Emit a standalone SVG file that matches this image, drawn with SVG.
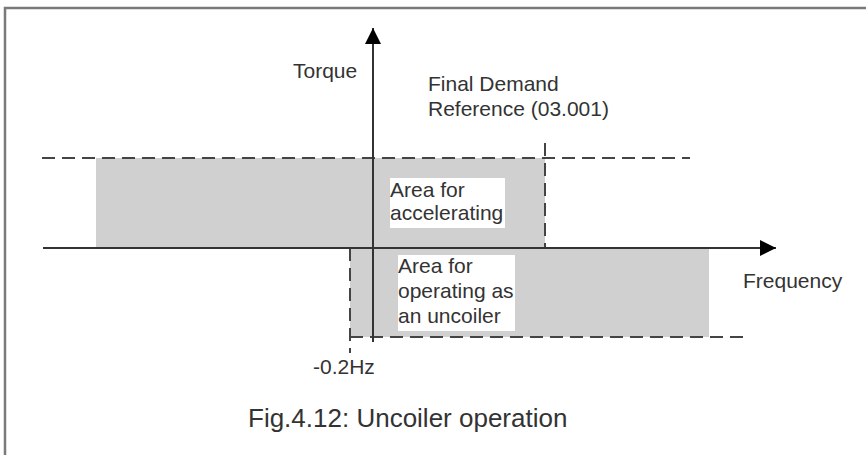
<svg xmlns="http://www.w3.org/2000/svg" width="866" height="455" viewBox="0 0 866 455">
<style>
.t{font-family:"Liberation Sans",Arial,sans-serif;font-size:21px;fill:#333}
.cap{font-family:"Liberation Sans",Arial,sans-serif;font-size:26px;fill:#333}
.dash{stroke:#444;stroke-width:2;stroke-dasharray:13 7;fill:none}
.area{fill:#d0d0d0}
.box{fill:#fff}
.axis{stroke:#333;stroke-width:2;fill:none}
</style>
<defs>
<marker id="arr" markerWidth="16" markerHeight="16" refX="16" refY="8" orient="auto" markerUnits="userSpaceOnUse">
<path d="M0,0 L16,8 L0,16 Z" fill="#000"/>
</marker>
</defs>
<rect width="866" height="455" fill="#fff"/>
<g id="frame">
<path d="M5,455 L5,8 L866,8" stroke="#7a7a7a" stroke-width="2.5" fill="none"/>
</g>
<g id="areas">
<rect class="area" x="96" y="158" width="449" height="90"/>
<rect class="area" x="350" y="248" width="359" height="89"/>
</g>
<g id="connectors">
<line class="dash" x1="42" y1="158" x2="690" y2="158"/>
<line class="dash" x1="545" y1="143" x2="545" y2="248"/>
<line class="dash" x1="350" y1="337" x2="748" y2="337"/>
<line class="dash" x1="350" y1="248" x2="350" y2="353"/>
<line class="axis" x1="43" y1="248" x2="776" y2="248" marker-end="url(#arr)"/>
<line class="axis" x1="373" y1="342" x2="373" y2="28" marker-end="url(#arr)"/>
</g>
<g id="torque-label">
<text class="t" x="293" y="78">Torque</text>
</g>
<g id="frequency-label">
<text class="t" x="743" y="288">Frequency</text>
</g>
<g id="final-demand-label">
<text class="t" x="428" y="91">Final Demand</text>
<text class="t" x="428" y="116">Reference (03.001)</text>
</g>
<g id="accelerating-area">
<rect class="box" x="390" y="178" width="115" height="50"/>
<text class="t" x="390" y="197">Area for</text>
<text class="t" x="390" y="220">accelerating</text>
</g>
<g id="uncoiler-area">
<rect class="box" x="398" y="255" width="117" height="76"/>
<text class="t" x="398" y="273">Area for</text>
<text class="t" x="398" y="298">operating as</text>
<text class="t" x="398" y="323">an uncoiler</text>
</g>
<g id="offset-label">
<text class="t" x="313" y="374">-0.2Hz</text>
</g>
<g id="caption">
<text class="cap" x="248" y="427">Fig.4.12: Uncoiler operation</text>
</g>
</svg>
